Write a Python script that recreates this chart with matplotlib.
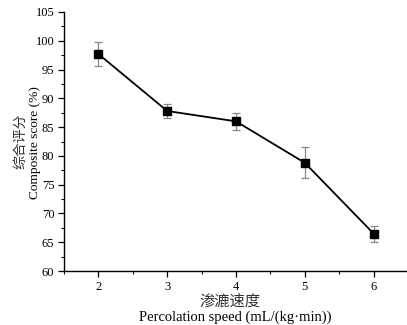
import matplotlib
matplotlib.use("Agg")
import matplotlib.pyplot as plt
from matplotlib.ticker import MultipleLocator

plt.rcParams["font.family"] = ["Liberation Serif", "Noto Sans CJK SC"]

speed = [2, 3, 4, 5, 6]
score = [97.7, 87.8, 86.0, 78.8, 66.5]
score_err = [2.1, 1.3, 1.5, 2.7, 1.4]

W, H = 407, 325
fig = plt.figure(figsize=(W / 100, H / 100), dpi=100)
ax = fig.add_axes([64 / W, 1 - 271 / H, 344 / W, 259 / H])

ax.errorbar(speed, score, yerr=score_err, color="black", lw=1.3,
            marker="s", ms=6, ecolor="#888888", elinewidth=0.9,
            capsize=3, capthick=0.9)

ax.set_xlim(1.5, 6.5)
ax.set_ylim(60, 105)
ax.xaxis.set_major_locator(MultipleLocator(1))
ax.xaxis.set_minor_locator(MultipleLocator(0.5))
ax.yaxis.set_major_locator(MultipleLocator(5))
ax.yaxis.set_minor_locator(MultipleLocator(2.5))
ax.tick_params(which="major", direction="out", length=4.5, width=0.9,
               labelsize=9, pad=2.5)
ax.tick_params(which="minor", direction="out", length=2.5, width=0.8)

for side in ["top", "right"]:
    ax.spines[side].set_visible(False)
for side in ["left", "bottom"]:
    ax.spines[side].set_linewidth(1.0)

# axis titles, Chinese above / left of English
fig.text(21 / W, 1 - 141 / H, "综合评分", rotation=90, fontsize=10,
         ha="center", va="center", color="#333333")
fig.text(35 / W, 1 - 143 / H, "Composite score (%)", rotation=90,
         fontsize=9.6, ha="center", va="center")
fig.text(230 / W, 1 - 301 / H, "渗漉速度", fontsize=11,
         ha="center", va="center", color="#333333")
fig.text(235 / W, 1 - 317 / H, "Percolation speed (mL/(kg·min))",
         fontsize=10.5, ha="center", va="center")

fig.savefig("out.png", dpi=100)
